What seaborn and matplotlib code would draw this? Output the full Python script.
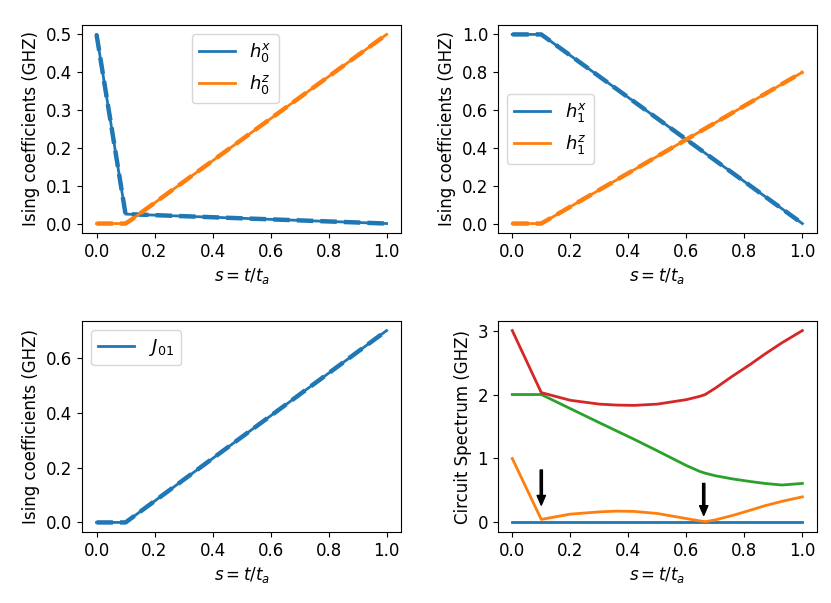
import numpy as np
import matplotlib
matplotlib.use("Agg")
import matplotlib.pyplot as plt
import seaborn as sns

# ---- data ----
s_knots = [0.0, 0.1, 1.0]
s_knots2 = [0.0, 0.1, 0.12, 1.0]
h0x = [0.5, 0.025, 0.0]
h0z = [0.0, 0.0, 0.01, 0.5]
h1x = [1.0, 1.0, 0.0]
h1z = [0.0, 0.0, 0.8]
J01 = [0.0, 0.0, 0.7]

s_spec = [0.0, 0.1, 0.2, 0.3, 0.36, 0.42, 0.5, 0.6, 0.645, 0.665, 0.7, 0.76,
          0.82, 0.87, 0.93, 1.0]
E0 = [0.0] * len(s_spec)
E1 = [1.0, 0.047, 0.13, 0.165, 0.177, 0.172, 0.14, 0.06, 0.025, 0.012, 0.04,
      0.11, 0.19, 0.26, 0.33, 0.40]
E2 = [2.0, 2.0, 1.78, 1.56, 1.43, 1.30, 1.12, 0.89, 0.80, 0.77, 0.73, 0.68,
      0.64, 0.61, 0.585, 0.61]
E3 = [3.0, 2.03, 1.91, 1.85, 1.835, 1.83, 1.85, 1.92, 1.97, 2.0, 2.1, 2.29,
      2.47, 2.63, 2.81, 3.0]

arrow_s = [0.1, 0.66]
arrow_top = [0.82, 0.61]
arrow_bottom = [0.27, 0.11]

blue, orange, green, red = "#1f77b4", "#ff7f0e", "#2ca02c", "#d62728"

plt.rcParams.update({"font.size": 12, "font.family": ["DejaVu Sans"]})

fig = plt.figure(figsize=(8.31, 6.03), dpi=100)
axA = fig.add_axes([0.0987, 0.6136, 0.384, 0.345])
axB = fig.add_axes([0.599, 0.6136, 0.384, 0.345])
axC = fig.add_axes([0.0987, 0.1177, 0.384, 0.35])
axD = fig.add_axes([0.599, 0.1177, 0.384, 0.35])

def pair(ax, x, y, color, label):
    sns.lineplot(x=x, y=y, ax=ax, color=color, lw=3.2, linestyle="--",
                 sort=False, label="_nolegend_", legend=False)
    sns.lineplot(x=x, y=y, ax=ax, color=color, lw=2, sort=False,
                 label=label, legend=False)

pair(axA, s_knots, h0x, blue, r"$h_0^x$")
pair(axA, s_knots2, h0z, orange, r"$h_0^z$")
axA.legend(loc="upper center", fontsize=13, bbox_to_anchor=(0.48, 1.0))

pair(axB, s_knots, h1x, blue, r"$h_1^x$")
pair(axB, s_knots, h1z, orange, r"$h_1^z$")
axB.legend(loc="center left", fontsize=13)

pair(axC, s_knots, J01, blue, r"$J_{01}$")
axC.legend(loc="upper left", fontsize=13)

for y, c in zip([E0, E1, E2, E3], [blue, orange, green, red]):
    sns.lineplot(x=s_spec, y=y, ax=axD, color=c, lw=2, sort=False, legend=False)
for xs, yt, yb in zip(arrow_s, arrow_top, arrow_bottom):
    axD.annotate("", xy=(xs, yb), xytext=(xs, yt),
                 arrowprops=dict(facecolor="black", edgecolor="black",
                                 width=1.6, headwidth=6, headlength=7))

for ax in (axA, axB, axC, axD):
    ax.set_xlabel(r"$s = t/t_a$", fontsize=12)
    ax.set_xticks([0.0, 0.2, 0.4, 0.6, 0.8, 1.0])
    ax.tick_params(labelsize=12)
    ax.set_xlim(-0.05, 1.05)

axA.set_ylabel("Ising coefficients (GHZ)")
axB.set_ylabel("Ising coefficients (GHZ)")
axC.set_ylabel("Ising coefficients (GHZ)")
axD.set_ylabel("Circuit Spectrum (GHZ)")

axA.set_yticks([0.0, 0.1, 0.2, 0.3, 0.4, 0.5])
axA.set_ylim(-0.025, 0.525)
axB.set_yticks([0.0, 0.2, 0.4, 0.6, 0.8, 1.0])
axB.set_ylim(-0.05, 1.05)
axC.set_yticks([0.0, 0.2, 0.4, 0.6])
axC.set_ylim(-0.035, 0.735)
axD.set_yticks([0, 1, 2, 3])
axD.set_ylim(-0.15, 3.15)

fig.savefig("out.png", dpi=100)
